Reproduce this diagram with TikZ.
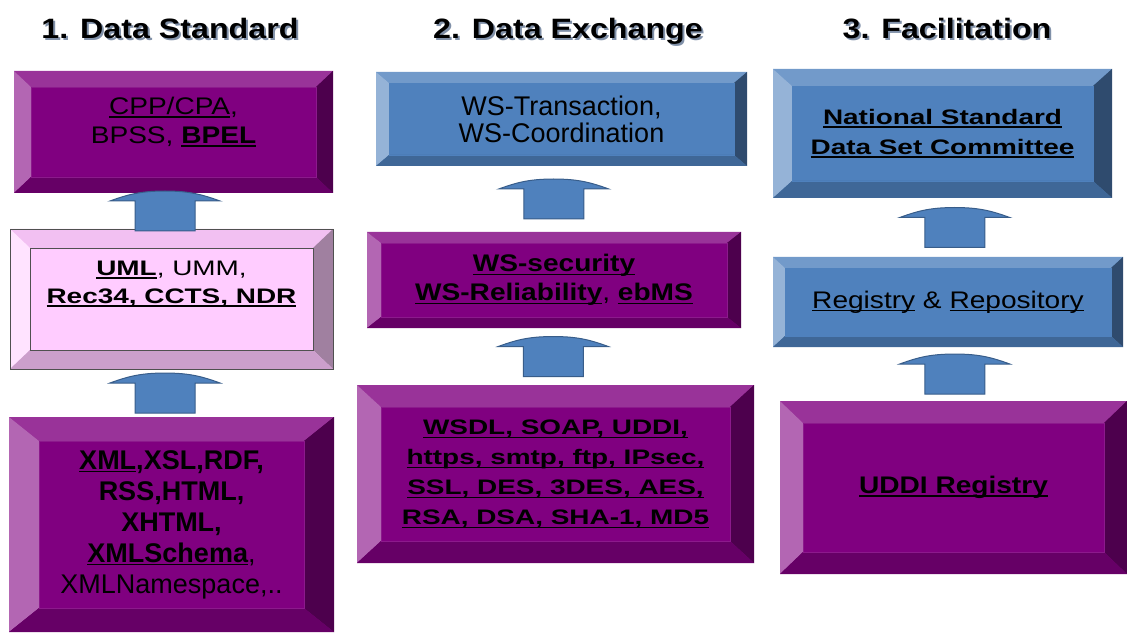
\documentclass[tikz,border=0pt]{standalone}
\usepackage{fontspec}
\setmainfont{Liberation Sans}
\newfontfamily\midf{Liberation Sans}[FakeStretch=1.17]
\newfontfamily\widf{Liberation Sans}[FakeStretch=1.33]
\newfontfamily\titf{Liberation Sans}[FakeStretch=1.15]
\usepackage{tikz}
\usetikzlibrary{calc}

% purple, blue and pink bevel colours
\definecolor{pface}{HTML}{800080}
\definecolor{ptop}{HTML}{993399}
\definecolor{pleft}{HTML}{B366B3}
\definecolor{pright}{HTML}{4D004D}
\definecolor{pbot}{HTML}{660066}
\definecolor{pline}{HTML}{8C1A8C}
\definecolor{bface}{HTML}{4F81BD}
\definecolor{btop}{HTML}{729ACA}
\definecolor{bleft}{HTML}{95B3D7}
\definecolor{bright}{HTML}{2F4B6E}
\definecolor{bbot}{HTML}{3F6797}
\definecolor{bline}{HTML}{4F81BD}
\definecolor{kface}{HTML}{FFCCFF}
\definecolor{ktop}{HTML}{F2C0F2}
\definecolor{kleft}{HTML}{FFE3FF}
\definecolor{kright}{HTML}{A080A0}
\definecolor{kbot}{HTML}{CC9FCC}
\definecolor{kline}{HTML}{505050}
\definecolor{afill}{HTML}{4F81BD}
\definecolor{aline}{HTML}{385D8A}
\definecolor{shgray}{HTML}{8090A8}

\newlength\ulw
\newcommand\ulin[1]{\settowidth\ulw{#1}\rlap{\rule[-3pt]{\ulw}{1.2pt}}#1}
\newcommand\shtxt[1]{\makebox[0pt][l]{\hspace{2pt}\raisebox{-2pt}{\textcolor{shgray}{#1}}}#1}
\newcommand\uparr[3][0]{% #2 lower box, #3 upper box
  \coordinate (m) at ($(#2.north)!.5!(#3.south)+(#1,0)$);
  \draw[arr] ([shift={(-30,-20)}]m) -- ([shift={(-30,10)}]m) -- ([shift={(-55,10)}]m)
    to[bend left=10] ([shift={(0,20)}]m) to[bend left=10] ([shift={(55,10)}]m)
    -- ([shift={(30,10)}]m) -- ([shift={(30,-20)}]m) -- cycle;}

\begin{document}
\begin{tikzpicture}[x=1pt,y=1pt,
    ttl/.style={font=\titf\bfseries\fontsize{28}{32}\selectfont,anchor=base},
    arr/.style={fill=afill,draw=aline,line width=1pt},
    bevel/.style n args={3}{fill=#1face,inner sep=0pt,path picture={
      \path (path picture bounding box.north west) coordinate (o1)
            (path picture bounding box.south east) coordinate (o2)
            ([shift={(#2,-#3)}]o1) coordinate (i1)
            ([shift={(-#2,#3)}]o2) coordinate (i2);
      \fill[#1top] (o1) -- (o1 -| o2) -- (i1 -| i2) -- (i1) -- cycle;
      \fill[#1left] (o1) -- (i1) -- (i1 |- i2) -- (o1 |- o2) -- cycle;
      \fill[#1right] (o1 -| o2) -- (o2) -- (i2) -- (i1 -| i2) -- cycle;
      \fill[#1bot] (o1 |- o2) -- (o2) -- (i2) -- (i1 |- i2) -- cycle;
      \draw[#1line] (i1) rectangle (i2);}},
    fp/.style={font=\fontsize{27}{#1}\selectfont,align=center},
    fm/.style={font=\midf\fontsize{24}{#1}\selectfont,align=center},
    fw/.style={font=\widf\fontsize{21}{#1}\selectfont,align=center}]
  \useasboundingbox (0,0) rectangle (1127,633);

  % column titles
  \node[ttl] (t1) at (170,594) {\shtxt{1. Data Standard}};
  \node[ttl] (t2) at (568,594) {\shtxt{2. Data Exchange}};
  \node[ttl] (t3) at (947,594) {\shtxt{3. Facilitation}};

  % 1. data standard
  \node[bevel={p}{17}{16},minimum width=319pt,minimum height=122pt] (A) at (173.5,501) {};
  \node[fm=29] (At) at ([yshift=10]A.center) {\ulin{CPP/CPA},\\BPSS, \ulin{\textbf{BPEL}}};
  \node[bevel={k}{20}{19},draw=kline,minimum width=323pt,minimum height=140pt] (B) at (171.5,334) {};
  \node[fw=28] (Bt) at ([yshift=15]B.center) {\ulin{\textbf{UML}}, UMM,\\\ulin{\textbf{Rec34, CCTS, NDR}}};
  \node[bevel={p}{30}{24},minimum width=325pt,minimum height=215pt,fp=31] (C) at (171.5,108.5)
    {\ulin{\textbf{XML}}\textbf{,XSL,RDF,}\\\textbf{RSS,HTML,}\\\textbf{XHTML,}\\\ulin{\textbf{XMLSchema}},\\XMLNamespace,..};

  % 2. data exchange
  \node[bevel={b}{13}{11},minimum width=371pt,minimum height=94pt,fp=27] (D) at (561.5,514)
    {WS-Transaction,\\WS-Coordination};
  \node[bevel={p}{14}{11},minimum width=374pt,minimum height=96pt,fm=29] (E) at (554,353)
    {\ulin{\textbf{WS-security}}\\\ulin{\textbf{WS-Reliability}}, \ulin{\textbf{ebMS}}};
  \node[bevel={p}{24}{22},minimum width=397pt,minimum height=178pt,fw=30] (F) at (555.5,159)
    {\ulin{\textbf{WSDL, SOAP, UDDI,}}\\\ulin{\textbf{https, smtp, ftp, IPsec,}}\\
     \ulin{\textbf{SSL, DES, 3DES, AES,}}\\\ulin{\textbf{RSA, DSA, SHA-1, MD5}}};

  % 3. facilitation
  \node[bevel={b}{19}{17},minimum width=339pt,minimum height=129pt,fw=30] (G) at (942.5,499.5)
    {\ulin{\textbf{National Standard}}\\\ulin{\textbf{Data Set Committee}}};
  \node[bevel={b}{12}{11},minimum width=350pt,minimum height=90pt,fm=29] (H) at (948,331)
    {\ulin{Registry} \& \ulin{Repository}};
  \node[bevel={p}{23}{22},minimum width=347pt,minimum height=173pt,fm=29] (I) at (953.5,145.5)
    {\ulin{\textbf{UDDI Registry}}};

  % block arrows
  \uparr[-6.5]{C}{B}
  \uparr[-7.5]{B}{A}
  \uparr[-1.5]{F}{E}
  \uparr[-4]{E}{D}
  \uparr[4]{I}{H}
  \uparr[9.5]{H}{G}
\end{tikzpicture}
\end{document}
